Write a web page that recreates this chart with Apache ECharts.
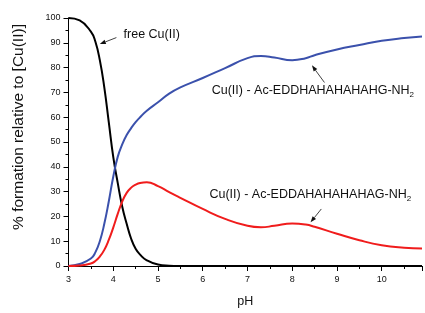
<!DOCTYPE html>
<html>
<head>
<meta charset="utf-8">
<script src="https://cdn.jsdelivr.net/npm/echarts@6/dist/echarts.min.js"></script>
<style>
  html, body { margin: 0; padding: 0; background: #fff; }
  #chart { width: 425px; height: 313px; }
</style>
</head>
<body>
<div id="chart"></div>
<script>
// pH grid shared by all species
const pH = [3.0, 3.25, 3.5, 3.6, 3.7, 3.8, 3.9, 4.0, 4.1, 4.2, 4.3, 4.4, 4.5, 4.6, 4.75,
  5.0, 5.25, 5.5, 6.0, 6.5, 7.0, 7.3, 7.6, 8.0, 8.3, 8.5, 9.0, 9.5, 10.0, 10.5, 10.9]
// % formation
const freeCu = [100, 99, 94.5, 90.5, 83, 72, 58, 44, 33.5, 24, 17, 11, 7, 4.6, 2.3,
  0.6, 0.15, 0.03, 0, 0, 0, 0, 0, 0, 0, 0, 0, 0, 0, 0, 0]
const cuEDDH = [0, 0.8, 3, 5.5, 10, 17, 26, 36, 44, 49, 52.8, 55.6, 58, 60, 62.6,
  66, 69.5, 72, 75.8, 79.8, 83.8, 84.7, 84.1, 83, 83.8, 85, 87.3, 89.1, 90.8, 91.9, 92.5]
const cuEDDA = [0, 0.2, 1, 2, 3.8, 6.5, 10.5, 15.5, 21, 26, 29.5, 31.6, 32.8, 33.5, 33.8,
  32.2, 29.8, 27.5, 23, 19, 16.2, 15.6, 16.2, 17.1, 16.7, 15.8, 13, 10.4, 8.4, 7.4, 7.1]

const font = 'Liberation Sans, Arial, sans-serif'

const pairs = ys => pH.map((x, i) => [x, ys[i]])

const chart = echarts.init(document.getElementById('chart'), null, { renderer: 'canvas' })

const line = (name, ys, color) => ({
  name: name,
  type: 'line',
  data: pairs(ys),
  smooth: 0.5,
  showSymbol: false,
  symbol: 'none',
  lineStyle: { color: color, width: 2 },
  z: 3
})

chart.setOption({
  animation: false,
  backgroundColor: '#fff',
  grid: { left: 68.5, right: 0, top: 18, bottom: 37 },
  xAxis: {
    type: 'value',
    min: 3,
    max: 10.9,
    interval: 1,
    name: 'pH',
    nameLocation: 'middle',
    nameGap: 29,
    nameTextStyle: { fontFamily: font, fontSize: 12.5, color: '#111' },
    axisLine: { lineStyle: { color: '#000', width: 1 } },
    axisTick: { show: true, inside: false, length: 5, lineStyle: { color: '#000' } },
    minorTick: { show: true, splitNumber: 2, length: 3, lineStyle: { color: '#000' } },
    splitLine: { show: false },
    axisLabel: {
      margin: 9, fontFamily: font, fontSize: 9, color: '#111',
      formatter: v => (Math.abs(v - Math.round(v)) < 1e-6 ? String(Math.round(v)) : '')
    }
  },
  yAxis: {
    type: 'value',
    min: 0,
    max: 100,
    interval: 10,
    axisLine: { show: true, lineStyle: { color: '#000', width: 1 } },
    axisTick: { show: true, inside: false, length: 5, lineStyle: { color: '#000' } },
    minorTick: { show: true, splitNumber: 2, length: 3, lineStyle: { color: '#000' } },
    splitLine: { show: false },
    axisLabel: { margin: 8, fontFamily: font, fontSize: 9, color: '#111' }
  },
  series: [
    line('free Cu(II)', freeCu, '#000000'),
    line('Cu(II) - Ac-EDDHAHAHAHAHG-NH2', cuEDDH, '#3b51ac'),
    line('Cu(II) - Ac-EDDAHAHAHAHAG-NH2', cuEDDA, '#f01c1c')
  ]
})

// annotations placed in data coordinates
const notes = [
  { text: 'free Cu(II)', at: [4.23, 93.4], tail: [4.07, 92.1], tip: [3.70, 89.5] },
  { text: 'Cu(II) - Ac-EDDHAHAHAHAHG-NH', sub: '2', at: [6.2, 70.8], tail: [8.72, 74], tip: [8.44, 80.9] },
  { text: 'Cu(II) - Ac-EDDAHAHAHAHAG-NH', sub: '2', at: [6.15, 28.8], tail: [8.65, 23], tip: [8.41, 17.6] }
]

const px = p => chart.convertToPixel({ gridIndex: 0 }, p)

const graphics = []
notes.forEach(n => {
  const a = px(n.at), t0 = px(n.tail), t1 = px(n.tip)
  const txt = n.sub ? '{a|' + n.text + '}{b|' + n.sub + '}' : '{a|' + n.text + '}'
  graphics.push({
    type: 'text', x: a[0], y: a[1], z: 10,
    style: {
      text: txt, fill: '#111', align: 'left', verticalAlign: 'middle',
      rich: {
        a: { fontFamily: font, fontSize: 12.5, lineHeight: 14, fill: '#111' },
        b: { fontFamily: font, fontSize: 8, lineHeight: 8, padding: [9, 0, 0, 0], fill: '#111' }
      }
    }
  })
  const dx = t1[0] - t0[0], dy = t1[1] - t0[1]
  const len = Math.sqrt(dx * dx + dy * dy)
  const ux = dx / len, uy = dy / len
  const hl = 6, hw = 2.2
  const bx = t1[0] - ux * hl, by = t1[1] - uy * hl
  graphics.push({
    type: 'line', z: 10,
    shape: { x1: t0[0], y1: t0[1], x2: bx, y2: by },
    style: { stroke: '#111', lineWidth: 0.8 }
  })
  graphics.push({
    type: 'polygon', z: 10,
    shape: { points: [[t1[0], t1[1]], [bx - uy * hw, by + ux * hw], [bx + uy * hw, by - ux * hw]] },
    style: { fill: '#111' }
  })
})

// y axis title, sits a little above the plot centre
graphics.push({
  type: 'text', x: 19, y: 127, rotation: Math.PI / 2, z: 10,
  style: {
    text: '% formation relative to [Cu(II)]', fill: '#111',
    font: '15.5px ' + font, align: 'center', verticalAlign: 'middle'
  }
})

chart.setOption({ graphic: graphics })
</script>
</body>
</html>
